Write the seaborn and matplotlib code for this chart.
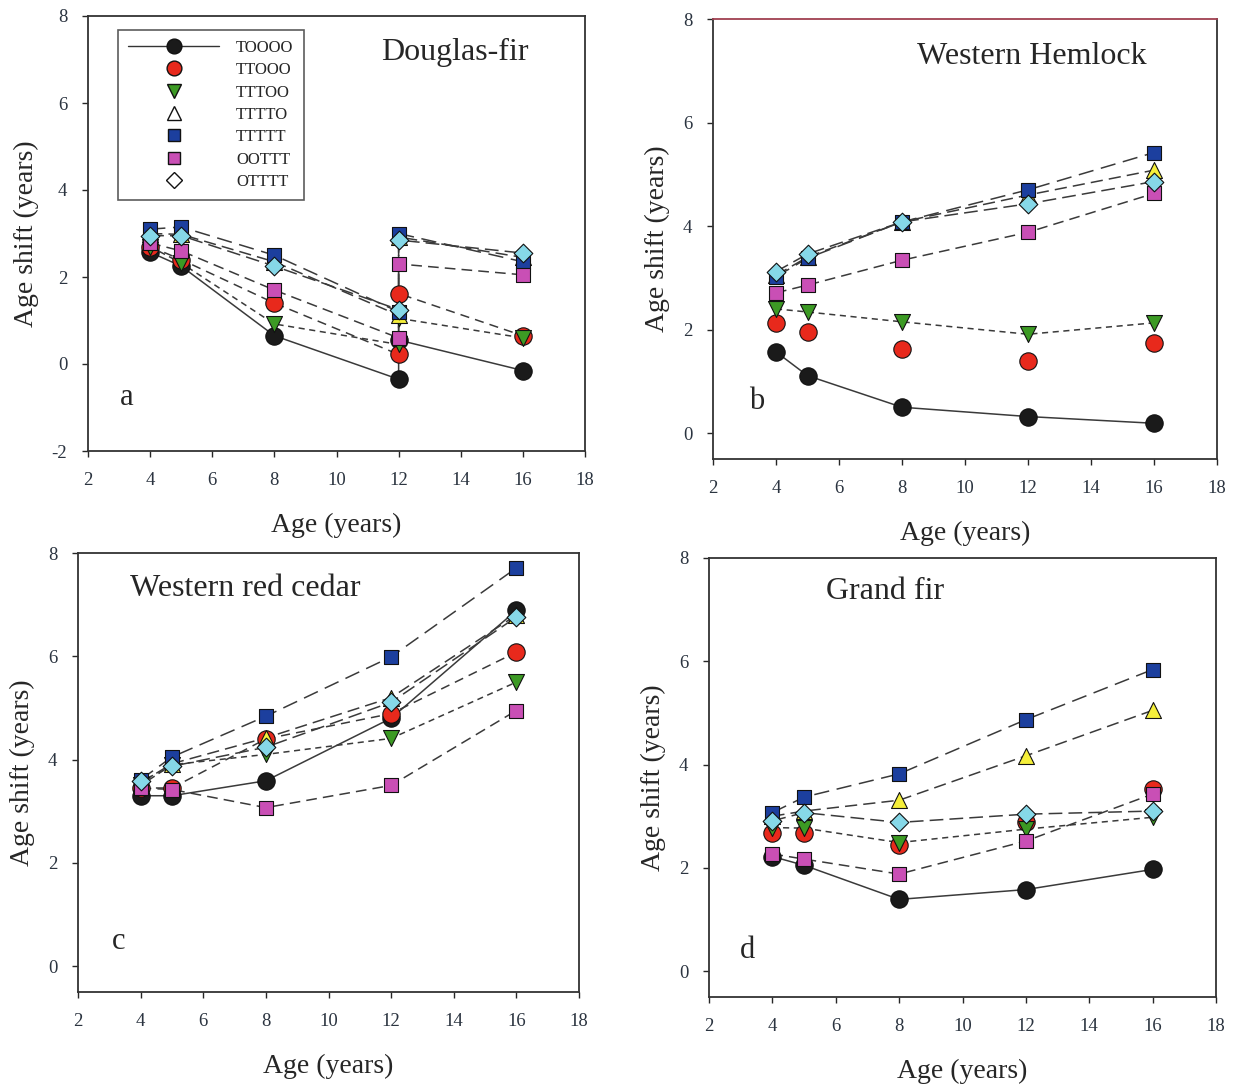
import numpy as np
import pandas as pd
import matplotlib
matplotlib.use('Agg')
import matplotlib.pyplot as plt
import seaborn as sns
from matplotlib.lines import Line2D

# ------------------------------------------------------------
# data
# ------------------------------------------------------------
treatments = ['TOOOO', 'TTOOO', 'TTTOO', 'TTTTO', 'TTTTT', 'OOTTT', 'OTTTT']

ages = [4, 5, 8, 12, 16]
ages_a = [4, 5, 8, 12, 12, 16]   # Douglas-fir has two values at age 12

douglas = {
    'TOOOO': [2.57, 2.25, 0.65, -0.35, 0.55, -0.15],
    'TTOOO': [2.70, 2.40, 1.40, 0.22, 1.62, 0.65],
    'TTTOO': [2.70, 2.32, 0.92, 0.45, 1.05, 0.60],
    'TTTTO': [3.00, 2.98, 2.35, 1.12, 2.92, 2.45],
    'TTTTT': [3.10, 3.15, 2.50, 1.20, 3.00, 2.35],
    'OOTTT': [2.78, 2.60, 1.70, 0.60, 2.30, 2.05],
    'OTTTT': [2.95, 2.95, 2.25, 1.25, 2.85, 2.55],
}
hemlock = {
    'TOOOO': [1.57, 1.11, 0.50, 0.32, 0.19],
    'TTOOO': [2.13, 1.95, 1.62, 1.40, 1.74],
    'TTTOO': [2.40, 2.34, 2.15, 1.91, 2.13],
    'TTTTO': [3.05, 3.40, 4.08, 4.60, 5.08],
    'TTTTT': [3.02, 3.38, 4.08, 4.70, 5.42],
    'OOTTT': [2.71, 2.86, 3.34, 3.88, 4.63],
    'OTTTT': [3.12, 3.46, 4.08, 4.43, 4.86],
}
cedar = {
    'TOOOO': [3.30, 3.30, 3.59, 4.80, 6.89],
    'TTOOO': [3.45, 3.45, 4.40, 4.89, 6.08],
    'TTTOO': [3.50, 3.90, 4.10, 4.41, 5.50],
    'TTTTO': [3.55, 3.92, 4.42, 5.20, 6.80],
    'TTTTT': [3.61, 4.05, 4.84, 5.99, 7.71],
    'OOTTT': [3.45, 3.42, 3.07, 3.50, 4.95],
    'OTTTT': [3.58, 3.87, 4.24, 5.11, 6.76],
}
grandfir = {
    'TOOOO': [2.22, 2.05, 1.39, 1.58, 1.97],
    'TTOOO': [2.67, 2.67, 2.45, 2.88, 3.53],
    'TTTOO': [2.78, 2.77, 2.49, 2.75, 2.98],
    'TTTTO': [3.00, 3.10, 3.31, 4.17, 5.05],
    'TTTTT': [3.07, 3.37, 3.82, 4.87, 5.84],
    'OOTTT': [2.27, 2.17, 1.88, 2.52, 3.43],
    'OTTTT': [2.91, 3.07, 2.88, 3.04, 3.10],
}

# ------------------------------------------------------------
# styles
# ------------------------------------------------------------
colors = {'TOOOO': '#1a1a1a', 'TTOOO': '#e8291c', 'TTTOO': '#3c9a24',
          'TTTTO': '#f5ef3a', 'TTTTT': '#1c3f9e', 'OOTTT': '#c94fb5',
          'OTTTT': '#86d8e8'}
markers = {'TOOOO': 'o', 'TTOOO': 'o', 'TTTOO': 'v', 'TTTTO': '^',
           'TTTTT': 's', 'OOTTT': 's', 'OTTTT': 'D'}
msize = {'o': 12.5, 'v': 11.5, '^': 11.5, 's': 10.5, 'D': 9.5}
dashes = {'TOOOO': (None, None), 'TTOOO': (6, 4), 'TTTOO': (4, 3),
          'TTTTO': (8, 4), 'TTTTT': (10, 5), 'OOTTT': (7, 4), 'OTTTT': (9, 4)}

sns.set_style('ticks')
plt.rcParams['font.family'] = ['Liberation Serif', 'DejaVu Serif']
plt.rcParams['axes.unicode_minus'] = False

fig = plt.figure(figsize=(12.38, 10.89), dpi=100)
W, H = 1238, 1089


def box(l, t, r, b):
    return [l / W, 1 - b / H, (r - l) / W, (b - t) / H]


ax_a = fig.add_axes(box(88, 16, 585, 451))
ax_b = fig.add_axes(box(713, 19, 1217, 459))
ax_c = fig.add_axes(box(78, 553, 579, 992))
ax_d = fig.add_axes(box(709, 558, 1216, 997))


def draw_panel(ax, x, data, no_line=()):
    # lines first
    for t in treatments:
        if t in no_line:
            continue
        df = pd.DataFrame({'age': x, 'shift': data[t]})
        ls = '-' if t == 'TOOOO' else (0, dashes[t])
        sns.lineplot(data=df, x='age', y='shift', ax=ax, sort=False,
                     estimator=None, color='#3a3a3a', lw=1.1,
                     linestyle=ls, zorder=2)
    # markers on top
    for i, t in enumerate(treatments):
        df = pd.DataFrame({'age': x, 'shift': data[t]})
        m = markers[t]
        sns.scatterplot(data=df, x='age', y='shift', ax=ax, marker=m,
                        s=msize[m] ** 2, color=colors[t], edgecolor='#111111',
                        linewidth=0.8, zorder=3 + i)


def style_axes(ax, ylim, yticks, title, title_pos, letter, letter_pos):
    ax.set_xlim(2, 18)
    ax.set_ylim(*ylim)
    ax.set_xticks(range(2, 19, 2))
    ax.set_yticks(yticks)
    ax.tick_params(direction='out', length=4, width=1, labelsize=13.5,
                   labelcolor='#2b3440', pad=11)
    for sp in ax.spines.values():
        sp.set_visible(True)
        sp.set_color('#333333')
        sp.set_linewidth(1.3)
    ax.set_xlabel('Age (years)', fontsize=20, labelpad=17)
    ax.set_ylabel('Age shift (years)', fontsize=20, labelpad=9)
    ax.text(*title_pos, title, transform=ax.transAxes, fontsize=23,
            ha='center', va='center')
    ax.text(*letter_pos, letter, transform=ax.transAxes, fontsize=22,
            ha='center', va='center')


draw_panel(ax_a, ages_a, douglas)
draw_panel(ax_b, ages, hemlock, no_line=('TTOOO',))
draw_panel(ax_c, ages, cedar)
draw_panel(ax_d, ages, grandfir, no_line=('TTOOO',))

style_axes(ax_a, (-2, 8), range(-2, 9, 2), 'Douglas-fir', (0.738, 0.915),
           'a', (0.078, 0.122))
style_axes(ax_b, (-0.5, 8), range(0, 9, 2), 'Western Hemlock', (0.633, 0.914),
           'b', (0.087, 0.13))
style_axes(ax_c, (-0.5, 8), range(0, 9, 2), 'Western red cedar', (0.333, 0.918),
           'c', (0.082, 0.114))
style_axes(ax_d, (-0.5, 8), range(0, 9, 2), 'Grand fir', (0.347, 0.923),
           'd', (0.075, 0.107))
ax_b.spines['top'].set_color('#a04050')

# legend in panel a
handles = []
for t in treatments:
    m = markers[t]
    face = 'white' if t in ('TTTTO', 'OTTTT') else colors[t]
    ls = '-' if t == 'TOOOO' else 'none'
    handles.append(Line2D([], [], color='#333333', lw=1, linestyle=ls,
                          marker=m, markersize=msize[m] * 0.85,
                          markerfacecolor=face, markeredgecolor='#111111'))
leg = ax_a.legend(handles, treatments, loc='upper left',
                  bbox_to_anchor=(0.06, 0.968), borderaxespad=0,
                  handlelength=5.5, fontsize=12, labelspacing=0.38,
                  frameon=True, fancybox=False, edgecolor='#333333',
                  borderpad=0.6, handletextpad=1.0)
leg.get_frame().set_linewidth(1.2)

fig.savefig('out.png', dpi=100)
